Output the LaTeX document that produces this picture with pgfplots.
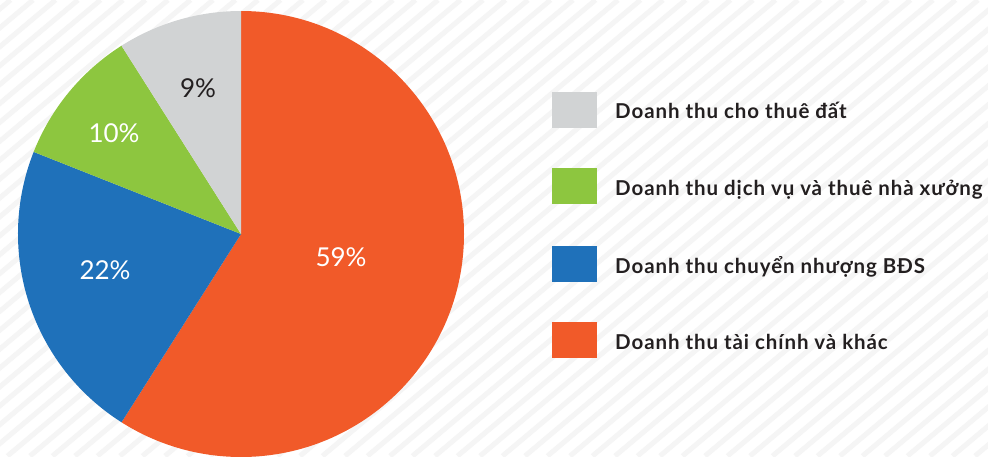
\documentclass[border=0pt]{standalone}
\usepackage{pgfplots}
\pgfplotsset{compat=1.18}
\usepackage{fontspec}
\setmainfont{Lato}
\newfontfamily\legfont{Lato}[LetterSpace=4.5]
\definecolor{cgray}{HTML}{D1D3D4}
\definecolor{cgreen}{HTML}{8DC63F}
\definecolor{cblue}{HTML}{1F71BA}
\definecolor{corange}{HTML}{F15A29}
\definecolor{ctext}{HTML}{231F20}
\definecolor{stripe}{HTML}{F5F5F5}
% shares (percent), clockwise from 12 o'clock
\def\vOrange{59}
\def\vBlue{22}
\def\vGreen{10}
\def\vGray{9}
\pgfmathsetmacro{\aA}{90-\vOrange*3.6}
\pgfmathsetmacro{\aB}{\aA-\vBlue*3.6}
\pgfmathsetmacro{\aC}{\aB-\vGreen*3.6}
\pgfmathsetmacro{\aD}{\aC-\vGray*3.6}
\begin{document}
\begin{tikzpicture}[x=1pt,y=1pt]
\useasboundingbox (0,0) rectangle (988,456);
\begin{scope}
\clip (0,0) rectangle (988,456);
\fill[white] (0,0) rectangle (988,456);
\foreach \k in {-600,-577.5,...,1000} \draw[line width=5pt, color=stripe] (\k,0) -- ++(543,456);
\end{scope}
\begin{axis}[at={(0,0)},anchor=south west,width=988pt,height=456pt,scale only axis,
  xmin=0,xmax=988,ymin=0,ymax=456,hide axis,clip=false]
\fill[corange] (axis cs:241,222) -- ++(90:223pt) arc[start angle=90,end angle=\aA,radius=223pt] -- cycle;
\fill[cblue] (axis cs:241,222) -- ++(\aA:223pt) arc[start angle=\aA,end angle=\aB,radius=223pt] -- cycle;
\fill[cgreen] (axis cs:241,222) -- ++(\aB:223pt) arc[start angle=\aB,end angle=\aC,radius=223pt] -- cycle;
\fill[cgray] (axis cs:241,222) -- ++(\aC:223pt) arc[start angle=\aC,end angle=\aD,radius=223pt] -- cycle;
\node[white,font=\fontsize{26}{28}\selectfont] at (axis cs:341,199) {59\%};
\node[white,font=\fontsize{26}{28}\selectfont] at (axis cs:105,186) {22\%};
\node[white,font=\fontsize{26}{28}\selectfont] at (axis cs:114,323) {10\%};
\node[ctext,font=\fontsize{26}{28}\selectfont] at (axis cs:198,368) {9\%};
\fill[cgray] (axis cs:552,328) rectangle (axis cs:597,364);
\fill[cgreen] (axis cs:552,252) rectangle (axis cs:597,288);
\fill[cblue] (axis cs:552,174) rectangle (axis cs:597,210);
\fill[corange] (axis cs:552,98) rectangle (axis cs:597,134);
\begin{scope}[every node/.style={anchor=base west,inner sep=0pt,text=ctext,font=\legfont\fontsize{20.5}{22}\selectfont\bfseries}]
\node at (axis cs:615,337) {Doanh thu cho thuê đất};
\node at (axis cs:615,261) {Doanh thu dịch vụ và thuê nhà xưởng};
\node at (axis cs:615,183) {Doanh thu chuyển nhượng BĐS};
\node at (axis cs:615,107) {Doanh thu tài chính và khác};
\end{scope}
\end{axis}
\end{tikzpicture}
\end{document}
